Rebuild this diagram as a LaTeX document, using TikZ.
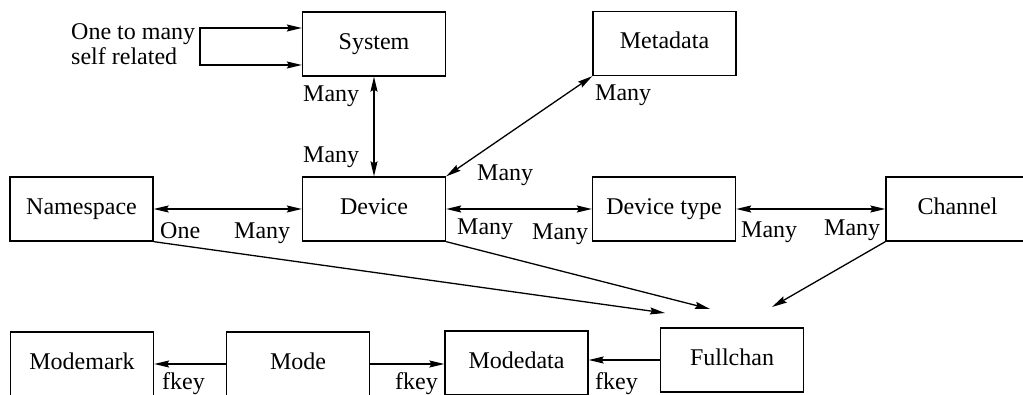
\documentclass[tikz,border=0pt]{standalone}
\usepackage{fontspec}
\setmainfont{Liberation Serif}
\usetikzlibrary{arrows.meta,calc}
\begin{document}
\begin{tikzpicture}[x=1pt,y=-1pt,
  >={Stealth[length=15pt,width=7pt,inset=2pt]},
  txt/.style={font=\fontsize{24}{28}\selectfont},
  box/.style={txt, draw, line width=1.3pt, minimum width=143pt, minimum height=64pt,
              inner sep=0pt, text height=16pt, text depth=5pt},
  lbl/.style={txt, inner sep=0pt, anchor=base west},
  conn/.style={line width=1.3pt}
]
\useasboundingbox (0,0) rectangle (1023,395);
\clip (0,0) rectangle (1023,395);

% entities
\node[box] (sys)   at (374,44)    {System};
\node[box] (meta)  at (664.5,43.5){Metadata};
\node[box] (ns)    at (81.5,209)  {Namespace};
\node[box] (dev)   at (374,209)   {Device};
\node[box] (dtype) at (664,209)   {Device type};
\node[box] (chan)  at (957.5,209) {Channel};
\node[box] (mmark) at (82,364)    {Modemark};
\node[box] (mode)  at (298,364)   {Mode};
\node[box] (mdata) at (516.5,363) {Modedata};
\node[box] (full)  at (732,360)   {Fullchan};

% self relation of System
\coordinate (loopA) at (200,28);
\coordinate (loopB) at (200,65);
\draw[conn,<->] (sys.west |- loopA) -- (loopA) -- (loopB) -- (sys.west |- loopB);
\node[lbl] (selfA) at (71,40) {One to many};
\node[lbl] (selfB) at (71,65) {self related};

% relations between entities
\draw[conn,<->] (sys.south) -- (dev.north);
\draw[conn,<->] (meta.south west) -- (dev.north east);
\draw[conn,<->] (ns.east) -- (dev.west);
\draw[conn,<->] (dev.east) -- (dtype.west);
\draw[conn,<->] (dtype.east) -- (chan.west);

% references gathered into Fullchan
\coordinate (inNs)   at (665,313);
\coordinate (inDev)  at (710,309);
\coordinate (inChan) at (772,307);
\draw[conn,->] (ns.south east) -- (inNs);
\draw[conn,->] (dev.south east) -- (inDev);
\draw[conn,->] (chan.south west) -- (inChan);

% foreign keys
\draw[conn,->] (mode.west) -- (mmark.east);
\draw[conn,->] (mode.east) -- (mode.east -| mdata.west);
\draw[conn,->] (full.west) -- (full.west -| mdata.east);

% cardinalities
\node[lbl] (cSys)    at (303,102) {Many};
\node[lbl] (cDevTop) at (303,163) {Many};
\node[lbl] (cMeta)   at (595,101) {Many};
\node[lbl] (cDevTR)  at (477,181) {Many};
\node[lbl] (cNsOne)  at (160,239) {One};
\node[lbl] (cNsMany) at (234,239) {Many};
\node[lbl] (cDevR)   at (457,235) {Many};
\node[lbl] (cTypeL)  at (532,240) {Many};
\node[lbl] (cTypeR)  at (741,238) {Many};
\node[lbl] (cChan)   at (824,236) {Many};
\node[lbl] (fk1)     at (162,389) {fkey};
\node[lbl] (fk2)     at (395,389) {fkey};
\node[lbl] (fk3)     at (595,389) {fkey};
\end{tikzpicture}
\end{document}
